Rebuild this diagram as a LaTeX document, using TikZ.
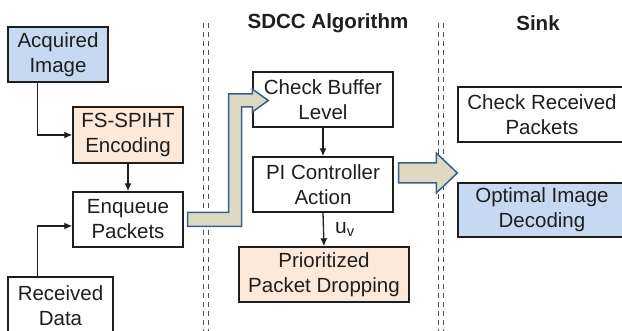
\documentclass[tikz,border=0pt]{standalone}
\usepackage{fontspec}
\setmainfont{Liberation Sans}
\usetikzlibrary{arrows.meta,calc}
\definecolor{skyfill}{HTML}{C6D9F1}
\definecolor{peachfill}{HTML}{FDE9D9}
\definecolor{tanfill}{HTML}{DDD9C3}
\definecolor{arrowedge}{HTML}{3B5E8C}
\definecolor{sepgray}{HTML}{505050}
\definecolor{ink}{HTML}{1E1E1E}
\begin{document}
\begin{tikzpicture}[x=1pt,y=-1pt,
  box/.style={draw=ink, line width=1.4pt, align=center, inner sep=0pt,
    text=ink, font=\fontsize{20.5}{25}\selectfont},
  flow/.style={-{Latex[length=8pt,width=7pt]}, line width=1.3pt, ink},
  blockarrow/.style={fill=tanfill, draw=arrowedge, line width=1.5pt, line join=miter},
  separator/.style={sepgray, line width=0.9pt, dash pattern=on 5pt off 4pt},
  title/.style={font=\fontsize{20.5}{25}\selectfont\bfseries, text=ink}]
\useasboundingbox (0,0) rectangle (622,331);
\clip (0,0) rectangle (622,331);

% column separators (double dashed)
\foreach \sx in {203.3,208.3,438.3,443.3}
  \draw[separator] (\sx,22.7) -- (\sx,340);

% column titles
\node[title] (ttlsdcc) at (328,23) {SDCC Algorithm};
\node[title] (ttlsink) at (538,23) {Sink};

% source node
\node[box, fill=skyfill, minimum width=100pt, minimum height=55pt] (acq) at (58,54.5) {Acquired\\Image};
\node[box, fill=peachfill, minimum width=110pt, minimum height=56pt] (fs) at (128,135) {FS-SPIHT\\Encoding};
\node[box, minimum width=110pt, minimum height=55pt] (enq) at (128,219.5) {Enqueue\\Packets};
\node[box, minimum width=105pt, minimum height=57pt] (rd) at (60.5,305.5) {Received\\Data};

% SDCC algorithm
\node[box, minimum width=140pt, minimum height=55pt] (cb) at (323,99.5) {Check Buffer\\Level};
\node[box, minimum width=140pt, minimum height=55pt] (pi) at (323,184.5) {PI Controller\\Action};
\node[box, fill=peachfill, minimum width=170pt, minimum height=55pt] (pd) at (324,274.5) {Prioritized\\Packet Dropping};

% sink
\node[box, minimum width=168pt, minimum height=55pt] (crp) at (542,114.5) {Check Received\\Packets};
\node[box, fill=skyfill, minimum width=168pt, minimum height=54pt] (oid) at (542,210) {Optimal Image\\Decoding};

% thin connectors
\draw[flow] ($(acq.south west)+(30,0)$) |- (fs.west);
\draw[flow] (fs.south) -- (enq.north);
\draw[flow] ($(rd.north west)+(30,0)$) |- ($(enq.west)+(0,6.5)$);
\draw[flow] (cb.south) -- (pi.north);
\draw[flow] (pi.south) -- (pd.north)
  node[midway, anchor=west, xshift=11pt, inner sep=0pt, text=ink,
       font=\fontsize{21}{25}\selectfont] (uv) {u\textsubscript{v}};

% bent block arrow: Enqueue Packets -> Check Buffer Level
\coordinate (bs) at ($(enq.east)+(4,0)$);
\coordinate (bh) at ($(cb.west)+(0,1)$);
\coordinate (vl) at ($(bs)+(41,0)$);
\coordinate (vr) at ($(bs)+(54,0)$);
\draw[blockarrow]
  ($(bs)+(0,-7)$) -- ($(vl)+(0,-7)$) -- (vl |- {$(bh)+(0,-6.5)$})
  -- ($(bh)+(0,-6.5)$) -- ($(bh)+(0,-11.5)$) -- ($(bh)+(16,0)$)
  -- ($(bh)+(0,11.5)$) -- ($(bh)+(0,6.5)$) -- (vr |- {$(bh)+(0,6.5)$})
  -- ($(vr)+(0,7)$) -- ($(bs)+(0,7)$) -- cycle;

% straight block arrow: PI Controller Action -> sink
\coordinate (as) at ($(pi.east)+(5,-11.5)$);
\coordinate (at) at (oid.west |- as);
\draw[blockarrow]
  ($(as)+(0,-10)$) -- ($(at)+(-21,-10)$) -- ($(at)+(-21,-20)$) -- (at)
  -- ($(at)+(-21,20)$) -- ($(at)+(-21,10)$) -- ($(as)+(0,10)$) -- cycle;
\end{tikzpicture}
\end{document}
